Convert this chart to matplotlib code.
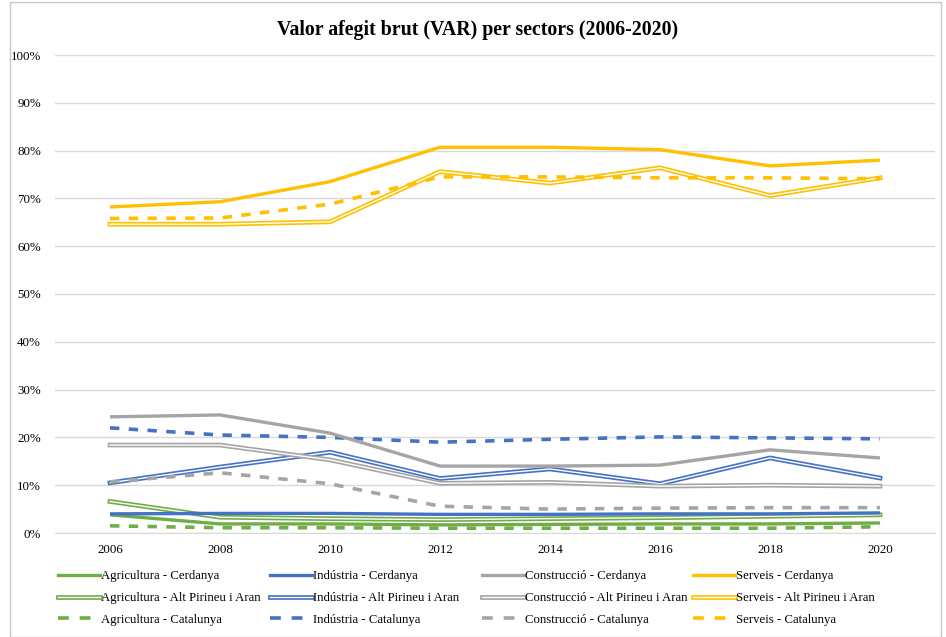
import matplotlib
matplotlib.use("Agg")
import matplotlib.pyplot as plt
import matplotlib.patheffects as pe
from matplotlib.lines import Line2D
from matplotlib.patches import Rectangle

years = ["2006", "2008", "2010", "2012", "2014", "2016", "2018", "2020"]

agri_cerdanya = [3.8, 1.9, 1.9, 1.7, 1.8, 1.9, 1.9, 2.1]
agri_alt = [6.6, 3.3, 3.0, 2.8, 3.0, 3.2, 3.5, 3.8]
agri_cat = [1.5, 1.1, 1.1, 1.0, 1.0, 1.0, 1.0, 1.3]

ind_cerdanya = [4.0, 4.1, 4.1, 3.9, 3.9, 4.0, 4.0, 4.2]
ind_alt = [10.5, 13.8, 16.9, 11.4, 13.4, 10.3, 15.7, 11.5]
ind_cat = [22.0, 20.5, 20.0, 19.0, 19.6, 20.1, 19.9, 19.7]

cons_cerdanya = [24.3, 24.7, 20.9, 14.0, 14.0, 14.2, 17.4, 15.7]
cons_alt = [18.4, 18.4, 15.3, 10.4, 10.6, 9.8, 10.0, 9.8]
cons_cat = [10.7, 12.6, 10.3, 5.6, 5.0, 5.2, 5.3, 5.3]

serv_cerdanya = [68.2, 69.3, 73.5, 80.7, 80.7, 80.2, 76.8, 78.0]
serv_alt = [64.6, 64.6, 65.1, 75.6, 73.2, 76.4, 70.6, 74.3]
serv_cat = [65.8, 65.9, 68.8, 74.5, 74.5, 74.3, 74.3, 74.1]

sectors = ["Agricultura", "Indústria", "Construcció", "Serveis"]
colors = ["#70AD47", "#4472C4", "#A5A5A5", "#FFC000"]
data = [
    (agri_cerdanya, agri_alt, agri_cat),
    (ind_cerdanya, ind_alt, ind_cat),
    (cons_cerdanya, cons_alt, cons_cat),
    (serv_cerdanya, serv_alt, serv_cat),
]
regions = ["Cerdanya", "Alt Pirineu i Aran", "Catalunya"]

W, H = 946, 637
fig = plt.figure(figsize=(W / 100, H / 100), dpi=100)
fig.patches.append(Rectangle((10 / W, 0.0), (941 - 10) / W, (636 - 1) / H,
                             transform=fig.transFigure, fill=False,
                             edgecolor="#C8C8C8", lw=1.0))

ax = fig.add_axes([55 / W, 1 - 533 / H, 880 / W, (533 - 55) / H])
serif = "Liberation Serif"

x = list(range(len(years)))
legend_cols = []
for si, sec in enumerate(sectors):
    c = colors[si]
    cer, alt, cat = data[si]
    ax.plot(x, [v / 100 for v in cer], color=c, lw=2.4, solid_capstyle="butt", zorder=3)
    ax.plot(x, [v / 100 for v in alt], color="white", lw=1.0, zorder=3,
            path_effects=[pe.Stroke(linewidth=3.4, foreground=c), pe.Normal()])
    ax.plot(x, [v / 100 for v in cat], color=c, lw=2.6, ls=(0, (2.6, 2.6)),
            dash_capstyle="butt", zorder=3)
    hs = [
        Line2D([], [], color=c, lw=2.4),
        Line2D([], [], color="white", lw=1.0,
               path_effects=[pe.Stroke(linewidth=3.4, foreground=c), pe.Normal()]),
        Line2D([], [], color=c, lw=2.6, ls=(0, (3.0, 3.0)), dash_capstyle="butt"),
    ]
    legend_cols.append((hs, [f"{sec} - {reg}" for reg in regions]))

ax.set_xlim(-0.5, len(years) - 0.5)
ax.set_ylim(0, 1)
ax.set_yticks([i / 10 for i in range(11)])
ax.set_yticklabels([f"{i * 10}%" for i in range(11)], fontfamily=serif, fontsize=9.3)
ax.set_xticks(x)
ax.set_xticklabels(years, fontfamily=serif, fontsize=9.3)
ax.tick_params(length=0, pad=8)
ax.tick_params(axis="y", pad=10)
ax.grid(axis="y", color="#D9D9D9", lw=1.0)
ax.set_axisbelow(True)
for s in ["top", "right", "left"]:
    ax.spines[s].set_visible(False)
ax.spines["bottom"].set_color("#D9D9D9")

fig.text(478 / W, 1 - 30 / H, "Valor afegit brut (VAR) per sectors (2006-2020)",
         ha="center", va="center", fontfamily=serif, fontsize=14.3, fontweight="bold")

col_x = [58, 270, 482, 693]
for (hs, labs), cx in zip(legend_cols, col_x):
    fig.legend(hs, labs, ncol=1, loc="center left",
               bbox_to_anchor=(cx / W, 1 - 598 / H), frameon=False,
               prop={"family": serif, "size": 9.2}, handlelength=3.3,
               handletextpad=0.1, labelspacing=0.78, borderpad=0,
               borderaxespad=0)

fig.savefig("out.png", dpi=100)
